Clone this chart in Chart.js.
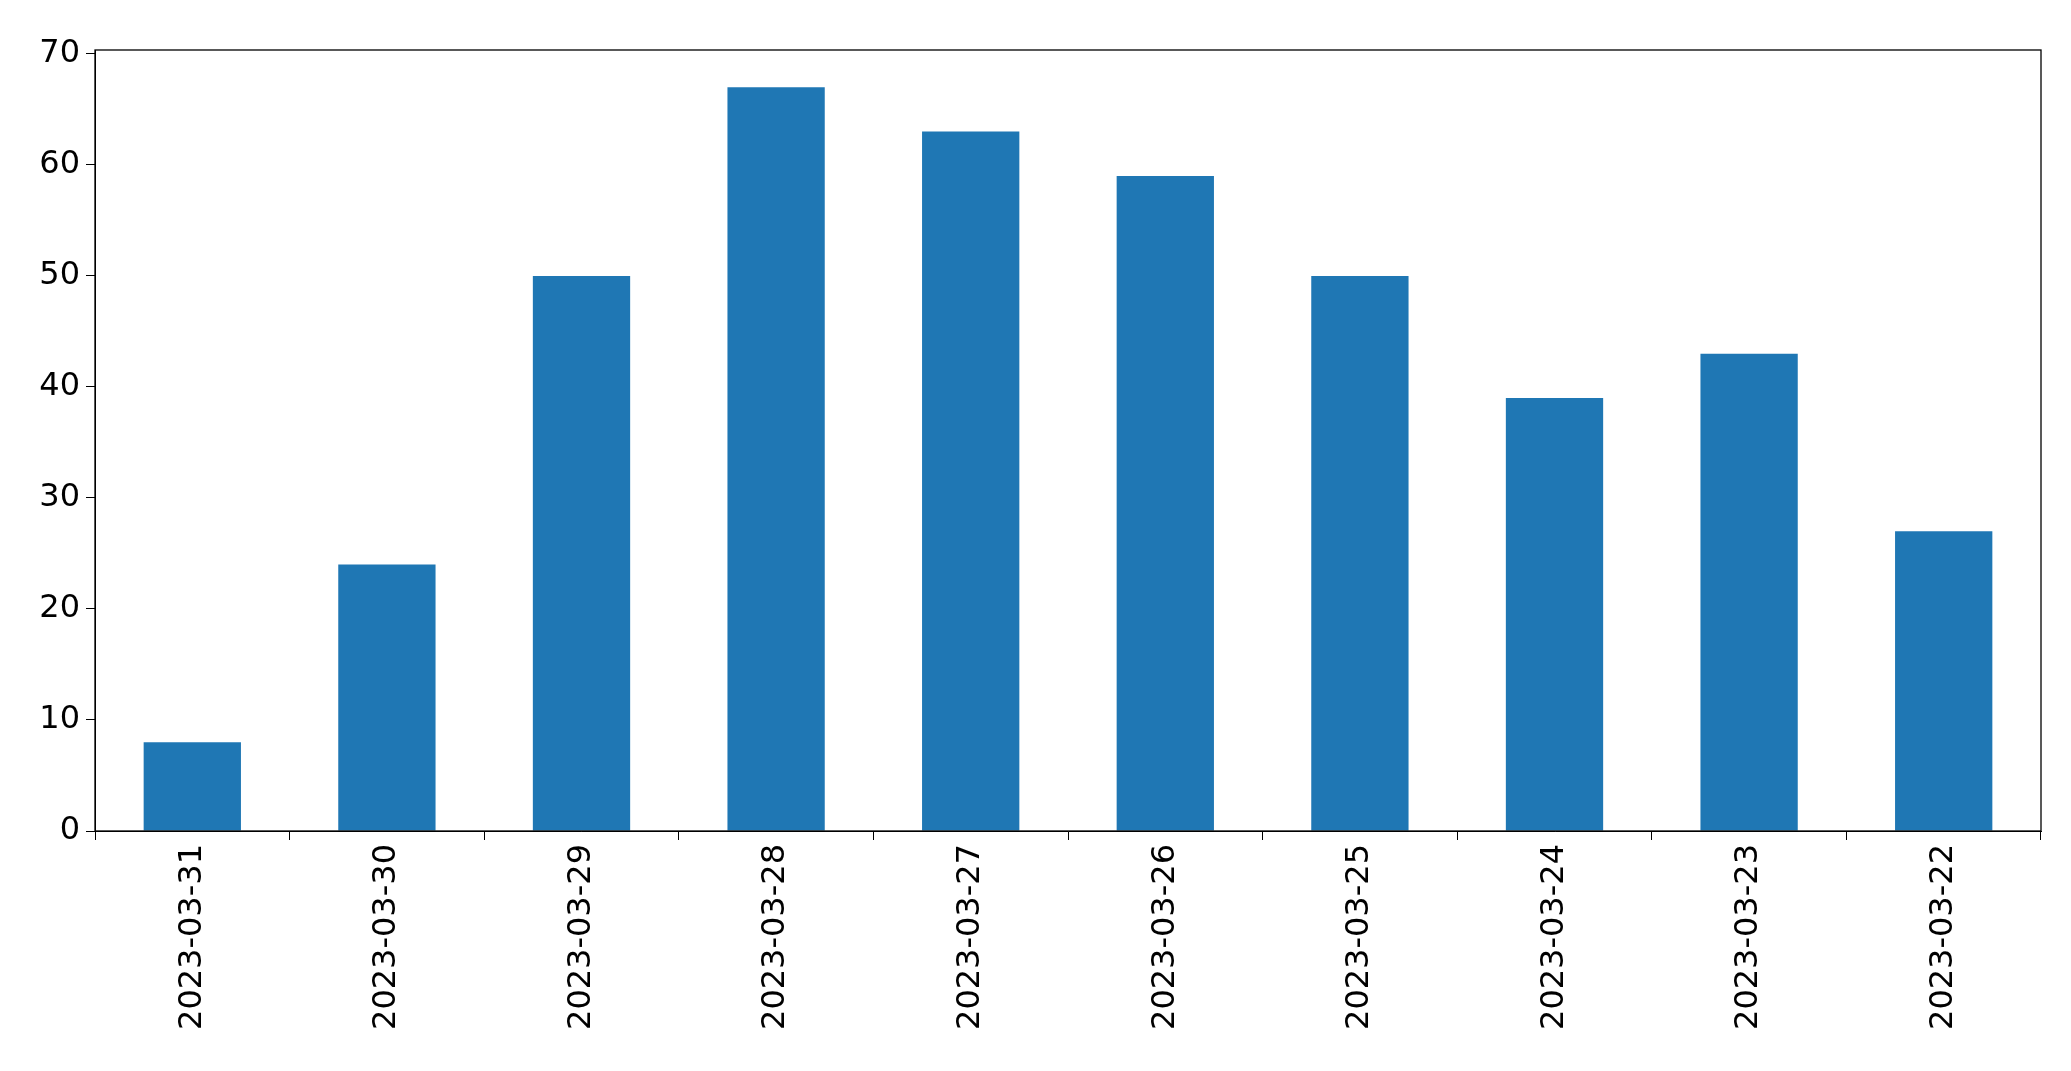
<!DOCTYPE html>
<html><head><meta charset="utf-8">
<script src="https://cdn.jsdelivr.net/npm/chart.js@4/dist/chart.umd.min.js"></script>
<style>html,body{margin:0;padding:0;background:#fff}#w{width:2071px;height:1071px}</style>
</head><body><div id="w"><canvas id="c"></canvas></div>
<script>
const categories = ["2023-03-31","2023-03-30","2023-03-29","2023-03-28","2023-03-27","2023-03-26","2023-03-25","2023-03-24","2023-03-23","2023-03-22"];
const values = [8,24,50,67,63,59,50,39,43,27];
const yTicks = [0,10,20,30,40,50,60,70];
const font = {family:"DejaVu Sans", size:32};
const frame = {id:'frame', afterDraw(ch){const a=ch.chartArea,c=ch.ctx;c.save();c.strokeStyle='#000';c.lineWidth=1.3;c.strokeRect(a.left,a.top,a.right-a.left,a.bottom-a.top);c.restore();}};
new Chart(document.getElementById('c'),{
 type:'bar',
 data:{labels:categories,datasets:[{data:values,backgroundColor:'#1f77b4',barPercentage:0.5,categoryPercentage:1}]},
 options:{responsive:true,maintainAspectRatio:false,animation:false,
  layout:{padding:{top:50,right:30,left:0,bottom:0}},
  plugins:{legend:{display:false},tooltip:{enabled:false}},
  scales:{
   x:{offset:true,grid:{display:true,drawOnChartArea:false,tickLength:9,color:'#000'},border:{color:'#000'},
      ticks:{font,color:'#000',minRotation:90,maxRotation:90,padding:4},
      afterFit(s){s.height=240;}},
   y:{min:0,max:70.35,grid:{display:true,drawOnChartArea:false,tickLength:9,color:'#000'},border:{color:'#000'},
      ticks:{font,color:'#000',padding:6,stepSize:10},
      afterBuildTicks(s){s.ticks=yTicks.map(v=>({value:v}));},
      afterFit(s){s.width=95;}}
  }},
 plugins:[frame]
});
</script></body></html>
